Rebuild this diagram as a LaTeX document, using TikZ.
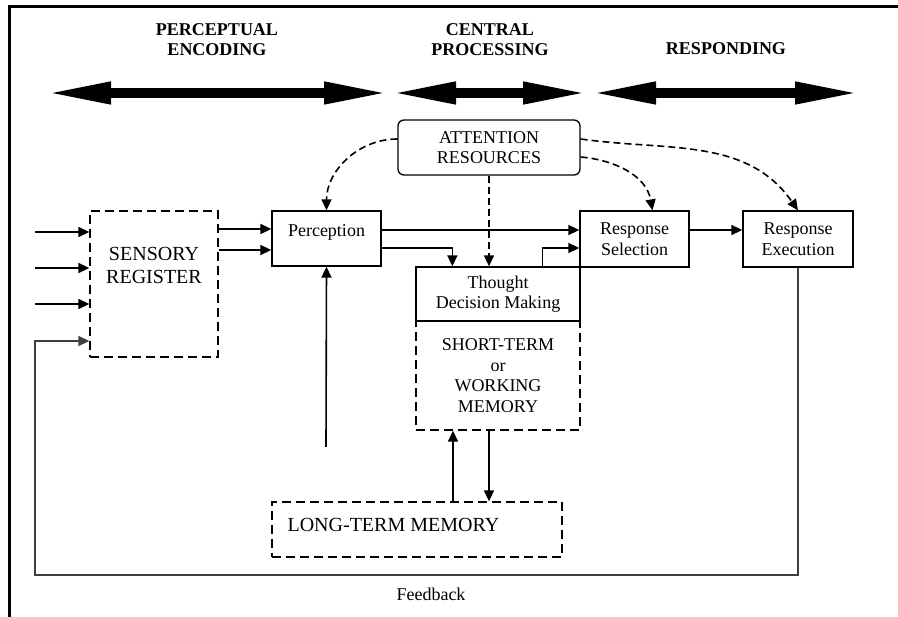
\documentclass[tikz,border=0pt]{standalone}
\usepackage{fontspec}
\setmainfont{Liberation Serif}
\usetikzlibrary{positioning,arrows.meta,calc}

\begin{document}
\begin{tikzpicture}[
    x=1pt, y=-1pt,
    box/.style={draw, line width=1.3pt, inner sep=0pt, align=center, font=\fontsize{18}{20.5}\selectfont},
    dashbox/.style={box, dash pattern=on 9pt off 5pt},
    lbl/.style={inner sep=0pt, align=center, font=\fontsize{18}{20.5}\selectfont},
    biglbl/.style={lbl, font=\fontsize{20}{23}\selectfont},
    head/.style={inner sep=0pt, align=center, font=\bfseries\fontsize{18}{20}\selectfont},
    arr/.style={-{Triangle[length=11pt,width=10pt]}, line width=1.6pt},
    dasharr/.style={arr, dash pattern=on 7pt off 4pt},
    fb/.style={arr, line width=1.3pt, draw=black!75},
    phase/.style={{Triangle[length=67pt,width=20pt]}-{Triangle[length=67pt,width=20pt]}, line width=10pt},
  ]
  \useasboundingbox (0,0) rectangle (898,617);
  \draw[line width=3pt] (9,617) -- (9,7) -- (898,7);

  % Phases
  \node[head] (enchead) at (217,40) {PERCEPTUAL\\ENCODING};
  \node[head] (cenhead) at (490,40) {CENTRAL\\PROCESSING};
  \node[head] (reshead) at (726,48.5) {RESPONDING};
  \coordinate (encL) at (44,93);
  \coordinate (encR) at (391,93);
  \coordinate (cenL) at (389,93);
  \coordinate (cenR) at (590,93);
  \coordinate (resL) at (589,93);
  \coordinate (resR) at (862,93);
  \draw[phase] (encL) -- (encR);
  \draw[phase] (cenL) -- (cenR);
  \draw[phase] (resL) -- (resR);

  % Boxes
  \node[box, rounded corners=6pt, minimum width=182pt, minimum height=55pt] (att) at (489,147.5) {ATTENTION\\RESOURCES};
  \node[dashbox, minimum width=128pt, minimum height=146pt] (sensory) at (154,284) {};
  \node[biglbl] (sensorylbl) at ($(sensory.north)+(0,55)$) {SENSORY\\REGISTER};
  \node[box, minimum width=109pt, minimum height=55pt] (percept) at (326.5,238.5) {};
  \node[lbl] (perceptlbl) at ($(percept.north)+(0,22)$) {Perception};
  \node[box, minimum width=109pt, minimum height=56pt] (respsel) at (634.5,239) {Response\\Selection};
  \node[box, minimum width=110pt, minimum height=56pt] (exec) at (798,239) {Response\\Execution};
  \node[dashbox, minimum width=164pt, minimum height=109pt] (stm) at (498,375.5) {SHORT-TERM\\or\\WORKING\\MEMORY};
  \node[box, fill=white, minimum width=164pt, minimum height=54pt] (thought) at (498,294) {Thought\\Decision Making};
  \node[dashbox, minimum width=290pt, minimum height=55pt] (ltm) at (417,529.5) {};
  \node[biglbl, anchor=west] (ltmlbl) at ($(ltm.west)+(16,-5)$) {LONG-TERM MEMORY};

  % Inputs
  \coordinate (in1) at (35,232);
  \coordinate (in2) at (35,268);
  \coordinate (in3) at (35,304);
  \draw[arr] (in1) -- (in1 -| sensory.west);
  \draw[arr] (in2) -- (in2 -| sensory.west);
  \draw[arr] (in3) -- (in3 -| sensory.west);

  % Flow
  \draw[arr] (sensory.east |- 0,229) -- (percept.west |- 0,229);
  \draw[arr] (sensory.east |- 0,250) -- (percept.west |- 0,250);
  \draw[arr] (percept.east |- 0,230) -- (respsel.west |- 0,230);
  \draw[arr] (percept.east |- 0,248) -| ($(thought.north west)+(37,0)$);
  \draw[arr] ($(thought.north west)+(127,0)$) |- (respsel.west |- 0,248);
  \draw[arr] (respsel.east |- 0,230) -- (exec.west |- 0,230);
  \coordinate (ltmup) at (326,447);
  \draw[arr] (ltmup) -- (percept.south);
  \draw[arr] (ltm.north -| 453,0) -- (stm.south -| 453,0);
  \draw[arr] (stm.south -| 489,0) -- (ltm.north -| 489,0);

  % Attention
  \draw[dasharr] (att.west |- 0,139) to[out=180,in=90] (percept.north);
  \draw[dasharr] (att.south) -- (att.south |- thought.north);
  \draw[dasharr] (att.east |- 0,157) to[out=-5,in=100] ($(respsel.north)+(18,0)$);
  \draw[dasharr] (att.east |- 0,139) to[out=-8,in=125] (exec.north);

  % Feedback
  \coordinate (fbcorner) at (35,575);
  \draw[fb] (exec.south) |- (fbcorner) |- (sensory.west |- 0,341);
  \node[lbl] (fblbl) at (431,594) {Feedback};
\end{tikzpicture}
\end{document}
